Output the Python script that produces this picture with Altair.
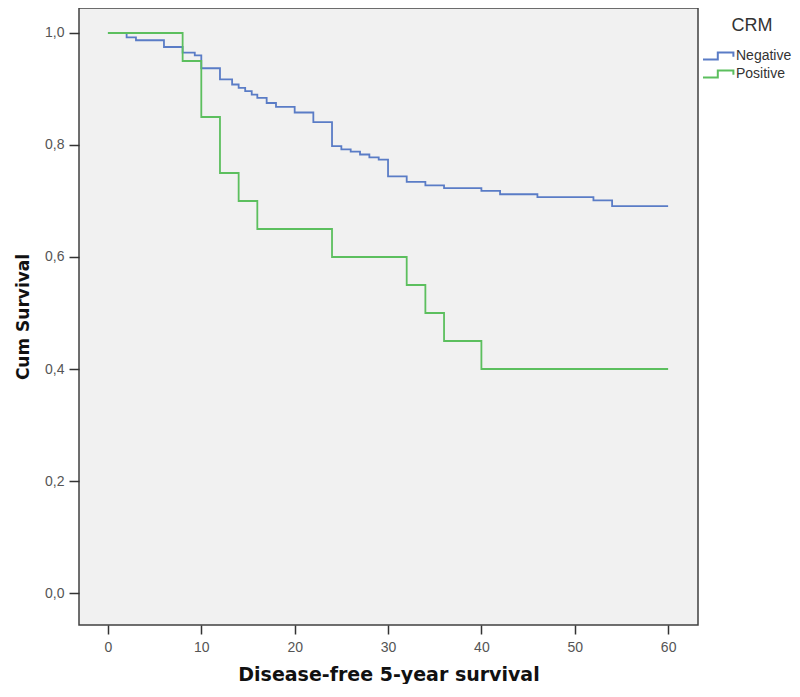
import altair as alt
import pandas as pd

# Kaplan-Meier steps (time in months, cumulative survival)
neg_time = [0, 2, 3, 6, 8, 9.3, 10, 12, 13.3, 14, 14.7, 15.4, 16, 17, 18, 20, 22,
            24, 25, 26, 27, 28, 29, 30, 32, 34, 36, 40, 42, 46, 52, 54, 60]
neg_surv = [1.0, 0.992, 0.987, 0.975, 0.965, 0.960, 0.937, 0.917, 0.908, 0.902, 0.896,
            0.890, 0.884, 0.875, 0.868, 0.858, 0.841, 0.798, 0.792, 0.788, 0.783, 0.778,
            0.774, 0.744, 0.734, 0.728, 0.723, 0.718, 0.712, 0.707, 0.701, 0.691, 0.691]
pos_time = [0, 8, 10, 12, 14, 16, 24, 32, 34, 36, 40, 60]
pos_surv = [1.0, 0.95, 0.85, 0.75, 0.70, 0.65, 0.60, 0.55, 0.50, 0.45, 0.40, 0.40]

groups = ["Negative", "Positive"]
colors = ["#5A7CC6", "#5CBF5E"]
x_ticks = [0, 10, 20, 30, 40, 50, 60]
y_ticks = [0.0, 0.2, 0.4, 0.6, 0.8, 1.0]

df = pd.concat([
    pd.DataFrame({"time": neg_time, "surv": neg_surv, "CRM": groups[0]}),
    pd.DataFrame({"time": pos_time, "surv": pos_surv, "CRM": groups[1]}),
])

step_symbol = "M-4,0.9 L-0.3,0.9 L-0.3,-0.9 L3.6,-0.9 L3.6,0.2"

chart = alt.Chart(df).mark_line(interpolate="step-after", strokeWidth=1.8, clip=True).encode(
    x=alt.X("time:Q",
            scale=alt.Scale(domain=[-3.1, 63.2], nice=False, zero=False),
            axis=alt.Axis(title="Disease-free 5-year survival", values=x_ticks,
                          format="d", grid=False, domain=False,
                          tickSize=9, tickWidth=1.5, tickColor="#333333",
                          labelFont="Liberation Sans", labelFontSize=14, labelColor="#555555",
                          labelPadding=6, titleFont="DejaVu Sans", titleFontSize=19,
                          titleFontWeight="bold", titleColor="#111111", titlePadding=11)),
    y=alt.Y("surv:Q",
            scale=alt.Scale(domain=[-0.0571, 1.0446], nice=False, zero=False),
            axis=alt.Axis(title="Cum Survival", values=y_ticks,
                          labelExpr="replace(format(datum.value, '.1f'), '.', ',')",
                          grid=False, domain=False,
                          tickSize=10, tickWidth=1.5, tickColor="#333333",
                          labelFont="Liberation Sans", labelFontSize=14, labelColor="#555555",
                          labelPadding=5, titleFont="DejaVu Sans", titleFontSize=17,
                          titleFontWeight="bold", titleColor="#111111", titlePadding=12)),
    color=alt.Color("CRM:N",
                    scale=alt.Scale(domain=groups, range=colors),
                    legend=alt.Legend(title="CRM", orient="none", legendX=633, legendY=9,
                                      symbolType=step_symbol, symbolSize=64,
                                      symbolStrokeWidth=2, labelOffset=10,
                                      labelFont="Liberation Sans", labelFontSize=14,
                                      labelColor="#333333", titleFont="Liberation Sans",
                                      titleFontSize=18, titleFontWeight="normal",
                                      titleColor="#333333", titlePadding=14,
                                      titleAnchor="middle", rowPadding=2, padding=0)),
).properties(
    width=619,
    height=617,
    autosize=alt.AutoSizeParams(type="none"),
    padding={"left": 71, "top": 0, "right": 94, "bottom": 59},
).configure_view(
    fill="#F1F1F1", stroke="#404040", strokeWidth=1.5
)

chart.save("out.html", embed_options={"renderer": "svg", "actions": False})
